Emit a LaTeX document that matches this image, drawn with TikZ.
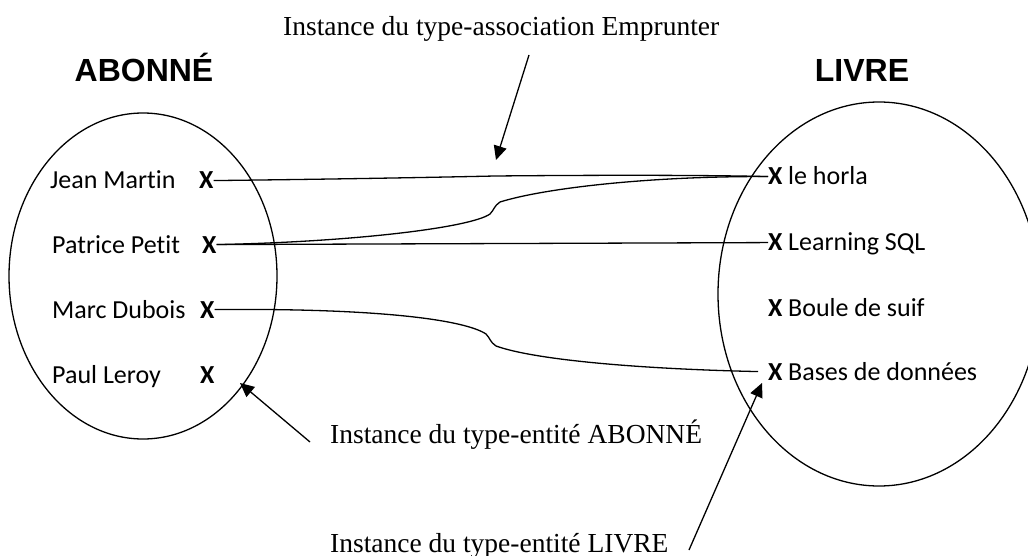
\documentclass[tikz,border=0pt]{standalone}
\usepackage{fontspec}
\setmainfont{Carlito}[Ligatures=NoCommon]
\newfontfamily\titlefont{Liberation Sans}
\newfontfamily\annfont{Liberation Serif}
\usetikzlibrary{arrows.meta,shapes.geometric}
\begin{document}
\begin{tikzpicture}[x=1pt,y=-1pt,
  lbl/.style={anchor=base west,inner sep=0pt,font=\fontsize{26}{30}\selectfont},
  xm/.style={anchor=base west,inner sep=0pt,font=\fontsize{26}{30}\selectfont\bfseries},
  ttl/.style={anchor=base,inner sep=0pt,font=\titlefont\fontsize{32}{36}\selectfont\bfseries},
  ann/.style={anchor=base west,inner sep=0pt,font=\annfont\fontsize{27.5}{32}\selectfont},
  setshape/.style={draw,ellipse,inner sep=0pt,line width=1.3pt},
  ln/.style={line width=1.3pt},
  arr/.style={line width=1.3pt,-{Triangle[length=14pt,width=13pt]}},
  ]
\useasboundingbox (0,0) rectangle (1028,556);
\clip (0,0) rectangle (1028,556);
\fill[white] (0,0) rectangle (1028,556);

% sets
\node[setshape,minimum width=268pt,minimum height=326pt] (setA) at (143,276) {};
\node[setshape,minimum width=322pt,minimum height=384pt] (setL) at (879,294) {};

% titles
\node[ttl] (tA) at (144,82) {ABONNÉ};
\node[ttl] (tL) at (862,82) {LIVRE};

% left elements
\node[lbl] (jm) at (50,189) {Jean Martin};
\node[lbl] (pp) at (52,253) {Patrice Petit};
\node[lbl] (md) at (52,318) {Marc Dubois};
\node[lbl] (pl) at (52,383) {Paul Leroy};
\node[xm] (xjm) at (199,189) {X};
\node[xm] (xpp) at (202,253) {X};
\node[xm] (xmd) at (200,318) {X};
\node[xm] (xpl) at (200,383) {X};

% right elements
\node[xm] (xh) at (768,185) {X};
\node[xm] (xs) at (768,251) {X};
\node[xm] (xb) at (768,316) {X};
\node[xm] (xd) at (768,380) {X};
\node[lbl] (lh) at (788,185) {le horla};
\node[lbl] (ls) at (788,251) {Learning SQL};
\node[lbl] (lb) at (788,316) {Boule de suif};
\node[lbl] (ld) at (788,380) {Bases de données};

% links
\draw[ln] (xjm.east) .. controls (350,179) and (450,177) .. (495,176)
  .. controls (600,175) and (700,175) .. (xh.west);
\draw[ln] (xpp.east) .. controls (350,242) and (470,228) .. (490,214)
  .. controls (494,210) and (494,206) .. (500,202)
  .. controls (545,188) and (650,176) .. (xh.west);
\draw[ln] (xpp.east) -- (xs.west);
\coordinate (dend) at ([xshift=-10pt]xd.west);
\draw[ln] (xmd.east) .. controls (380,308) and (465,320) .. (486,334)
  .. controls (490,338) and (490,342) .. (496,346)
  .. controls (535,360) and (640,369) .. (dend);

% annotations
\node[ann] (n1) at (283,36) {Instance du type-association Emprunter};
\node[ann] (n2) at (330,443) {Instance du type-entité ABONNÉ};
\node[ann] (n3) at (330,552) {Instance du type-entité LIVRE};
\coordinate (a1s) at (529,55);
\coordinate (a1e) at (496,160);
\coordinate (a2s) at (310,442);
\coordinate (a2e) at (240,383);
\coordinate (a3s) at (689,550);
\coordinate (a3e) at (762,383);
\draw[arr] (a1s) -- (a1e);
\draw[arr] (a2s) -- (a2e);
\draw[arr] (a3s) -- (a3e);
\end{tikzpicture}
\end{document}
